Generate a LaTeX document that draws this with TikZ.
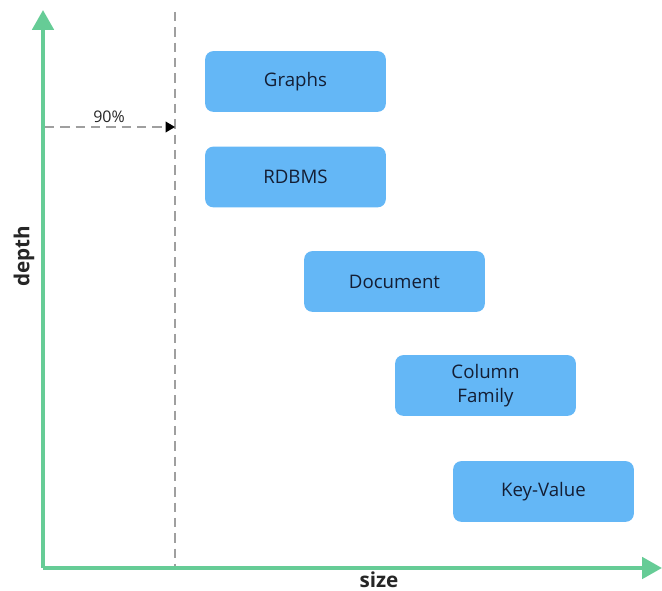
\documentclass[tikz,border=0pt]{standalone}
\usepackage{fontspec}
\setmainfont{Open Sans}
\usepackage{xcolor}
\usetikzlibrary{positioning, arrows.meta}

\definecolor{axisgreen}{RGB}{102,204,150}
\definecolor{boxblue}{RGB}{100,183,246}
\definecolor{inkblue}{RGB}{20,30,52}

\begin{document}
\begin{tikzpicture}[
  x=0.75pt, y=-0.75pt,
  store/.style={rectangle, rounded corners=6pt, fill=boxblue, minimum width=135.5pt, minimum height=45.5pt, align=center, text=inkblue, font=\fontsize{14}{15}\selectfont},
  axis/.style={draw=axisgreen, line width=3pt, -{Triangle[length=15pt, width=16pt]}},
  guide/.style={draw=gray!75, dash pattern=on 7pt off 4.5pt, line width=1pt},
  axislabel/.style={font=\bfseries\fontsize{15.5}{17}\selectfont, text=black!85}
]
\useasboundingbox (0,0) rectangle (662,591);

% ---------- Axes ----------
\coordinate (O) at (43,568);
\coordinate (ytop) at (43,10);
\coordinate (xend) at (662,568);
\draw[axis] (O) -- (ytop);
\draw[axis] (O) -- (xend);
\node[axislabel, rotate=90] (depth) at (24,256) {depth};
\node[axislabel] (size) at (379,580) {size};

% ---------- 90% marker ----------
\coordinate (gtop) at (175,12);
\coordinate (gbot) at (175,566);
\draw[guide] (gtop) -- (gbot);
\coordinate (mstart) at (45,127);
\coordinate (mend) at (175,127);
\draw[guide, -{Triangle[length=7pt, width=8pt, color=black, fill=black]}] (mstart) -- (mend);
\node[font=\fontsize{12}{13}\selectfont, text=black!85] (pct) at (109,117) {90\%};

% ---------- Stores ----------
\node[store] (graphs) at (295.5,81.5) {Graphs};
\node[store] (rdbms) at (295.5,177) {RDBMS};
\node[store] (document) at (394.5,281.5) {Document};
\node[store, font=\fontsize{14}{18}\selectfont] (column) at (485.5,385.5) {Column\\Family};
\node[store] (keyvalue) at (543.5,491.5) {Key-Value};

\end{tikzpicture}
\end{document}
